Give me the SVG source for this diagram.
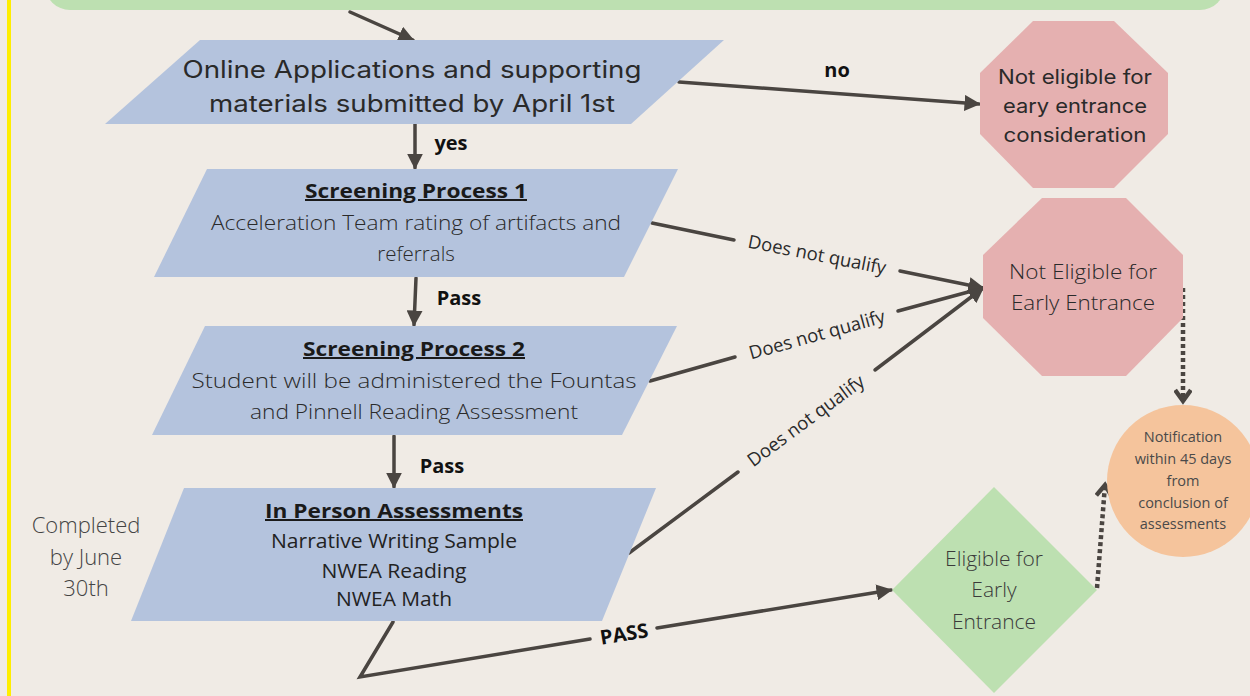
<svg xmlns="http://www.w3.org/2000/svg" width="1250" height="696" viewBox="0 0 1250 696">
<defs>
<style>
.bg{fill:#f0ebe5}
.para{fill:#b4c3dd}
.oct{fill:#e5b0b0}
.grn{fill:#bde0b1}
.circ{fill:#f5c49c}
.ln{stroke:#4a4541;stroke-width:3.5;fill:none;stroke-linecap:round}
.dot{stroke:#4a4541;stroke-width:4.5;fill:none;stroke-dasharray:4 3}
.mont{font-family:Inter,"Open Sans","Liberation Sans",sans-serif;fill:#2a2a2a;text-anchor:middle}
.os{font-family:"Open Sans","Liberation Sans",sans-serif;font-weight:300;fill:#2a2a2a;text-anchor:middle}
.ttl{font-family:"Open Sans","Liberation Sans",sans-serif;font-weight:bold;fill:#1a1a1a;text-anchor:middle;text-decoration:underline}
.lbl{font-family:"Open Sans","Liberation Sans",sans-serif;font-weight:bold;fill:#111;text-anchor:middle;font-size:20px}
.dnq{font-family:"Open Sans","Liberation Sans",sans-serif;fill:#2a2a2a;text-anchor:middle;font-size:18.5px}
.gray{font-family:"Open Sans","Liberation Sans",sans-serif;font-weight:300;fill:#444;text-anchor:middle}
</style>
<marker id="ah" viewBox="0 0 10 10" refX="9" refY="5" markerWidth="4.6" markerHeight="4.6" markerUnits="strokeWidth" orient="auto">
<path d="M0,0 L10,5 L0,10 z" fill="#4a4541"/>
</marker>
<marker id="chev" viewBox="0 0 12 12" refX="9" refY="6" markerWidth="4.2" markerHeight="4.2" markerUnits="strokeWidth" orient="auto">
<path d="M2,1 L9,6 L2,11" fill="none" stroke="#4a4541" stroke-width="2.8"/>
</marker>
</defs>
<rect class="bg" x="0" y="0" width="1250" height="696"/>
<rect x="7" y="0" width="4" height="696" fill="#ffee00"/>
<g id="top-banner">
<rect class="grn" x="45" y="-60" width="1180" height="70" rx="25"/>
</g>
<g id="note-completed">
<text class="gray" font-size="22"><tspan x="86" y="533">Completed</tspan><tspan x="86" y="565">by June</tspan><tspan x="86" y="596">30th</tspan></text>
</g>
<g id="connectors">
<line class="ln" x1="350" y1="12" x2="413" y2="40" marker-end="url(#ah)"/>
<line class="ln" x1="679" y1="82" x2="979" y2="104" marker-end="url(#ah)"/>
<text class="lbl" x="837" y="77">no</text>
<line class="ln" x1="415" y1="124" x2="415" y2="168" marker-end="url(#ah)"/>
<text class="lbl" x="451" y="150">yes</text>
<line class="ln" x1="416" y1="278" x2="414" y2="325" marker-end="url(#ah)"/>
<text class="lbl" x="459" y="305">Pass</text>
<line class="ln" x1="394" y1="436" x2="394" y2="487" marker-end="url(#ah)"/>
<text class="lbl" x="442" y="473">Pass</text>
<line class="ln" x1="652" y1="223" x2="734" y2="240"/>
<line class="ln" x1="900" y1="271" x2="983" y2="288" marker-end="url(#ah)"/>
<text class="dnq" transform="translate(817,255) rotate(11)" x="0" y="6">Does not qualify</text>
<line class="ln" x1="650" y1="381" x2="735" y2="357"/>
<line class="ln" x1="898" y1="311" x2="983" y2="288" marker-end="url(#ah)"/>
<text class="dnq" transform="translate(817,335) rotate(-15.5)" x="0" y="6">Does not qualify</text>
<line class="ln" x1="629" y1="553" x2="738" y2="472"/>
<line class="ln" x1="875" y1="370" x2="983" y2="288" marker-end="url(#ah)"/>
<text class="dnq" transform="translate(806,421) rotate(-36.5)" x="0" y="6">Does not qualify</text>
<polyline class="ln" points="393,622 360,677 590,639"/>
<line class="ln" x1="657" y1="628" x2="891" y2="590" marker-end="url(#ah)"/>
<text class="lbl" transform="translate(624,634) rotate(-9.3)" x="0" y="7" font-size="19">PASS</text>
<line class="dot" x1="1183" y1="288" x2="1183" y2="401" marker-end="url(#chev)"/>
<line class="dot" x1="1097" y1="588" x2="1105" y2="485" marker-end="url(#chev)"/>
</g>
<g id="online-applications">
<polygon class="para" points="200,40 724,40 631,124 105,124"/>
<text class="mont" font-size="24"><tspan x="412" y="78" textLength="459" lengthAdjust="spacingAndGlyphs">Online Applications and supporting</tspan><tspan x="412" y="112" textLength="406" lengthAdjust="spacingAndGlyphs">materials submitted by April 1st</tspan></text>
</g>
<g id="screening-1">
<polygon class="para" points="207,169 678,169 624,277 154,277"/>
<text class="ttl" x="416" y="198" font-size="20" textLength="222" lengthAdjust="spacingAndGlyphs">Screening Process 1</text>
<text class="os" font-size="20.5"><tspan x="416" y="230" textLength="410" lengthAdjust="spacingAndGlyphs">Acceleration Team rating of artifacts and</tspan><tspan x="416" y="261">referrals</tspan></text>
</g>
<g id="screening-2">
<polygon class="para" points="205,326 677,326 622,435 152,435"/>
<text class="ttl" x="414" y="356" font-size="20" textLength="222" lengthAdjust="spacingAndGlyphs">Screening Process 2</text>
<text class="os" font-size="20.5"><tspan x="414" y="388" textLength="445" lengthAdjust="spacingAndGlyphs">Student will be administered the Fountas</tspan><tspan x="414" y="419" textLength="328" lengthAdjust="spacingAndGlyphs">and Pinnell Reading Assessment</tspan></text>
</g>
<g id="in-person">
<polygon class="para" points="184,488 656,488 602,621 131,621"/>
<text class="ttl" x="394" y="518" font-size="20" textLength="258" lengthAdjust="spacingAndGlyphs">In Person Assessments</text>
<text class="os" font-size="19.5" style="font-weight:400;fill:#222"><tspan x="394" y="548" textLength="246" lengthAdjust="spacingAndGlyphs">Narrative Writing Sample</tspan><tspan x="394" y="578" textLength="145" lengthAdjust="spacingAndGlyphs">NWEA Reading</tspan><tspan x="394" y="606" textLength="116" lengthAdjust="spacingAndGlyphs">NWEA Math</tspan></text>
</g>
<g id="not-eligible-consideration">
<polygon class="oct" points="1033,21 1114,21 1168,73 1168,134 1114,188 1033,188 980,134 980,73"/>
<text class="mont" font-size="20"><tspan x="1075" y="84" textLength="154" lengthAdjust="spacingAndGlyphs">Not eligible for</tspan><tspan x="1075" y="113" textLength="144" lengthAdjust="spacingAndGlyphs">eary entrance</tspan><tspan x="1075" y="142" textLength="143" lengthAdjust="spacingAndGlyphs">consideration</tspan></text>
</g>
<g id="not-eligible-early">
<polygon class="oct" points="1042,198 1126,198 1183,255 1183,318 1126,376 1042,376 983,318 983,255"/>
<text class="os" font-size="21"><tspan x="1083" y="279" textLength="148" lengthAdjust="spacingAndGlyphs">Not Eligible for</tspan><tspan x="1083" y="310" textLength="144" lengthAdjust="spacingAndGlyphs">Early Entrance</tspan></text>
</g>
<g id="eligible-early">
<polygon class="grn" points="994,487 1097,590 994,693 892,590"/>
<text class="os" font-size="21" style="fill:#3a3a3a"><tspan x="994" y="566">Eligible for</tspan><tspan x="994" y="597">Early</tspan><tspan x="994" y="629">Entrance</tspan></text>
</g>
<g id="notification">
<circle class="circ" cx="1183" cy="481" r="76"/>
<text class="gray" font-size="14.5" style="font-weight:400;fill:#4a4a4a"><tspan x="1183" y="442">Notification</tspan><tspan x="1183" y="464">within 45 days</tspan><tspan x="1183" y="486">from</tspan><tspan x="1183" y="508">conclusion of</tspan><tspan x="1183" y="529">assessments</tspan></text>
</g>
</svg>
